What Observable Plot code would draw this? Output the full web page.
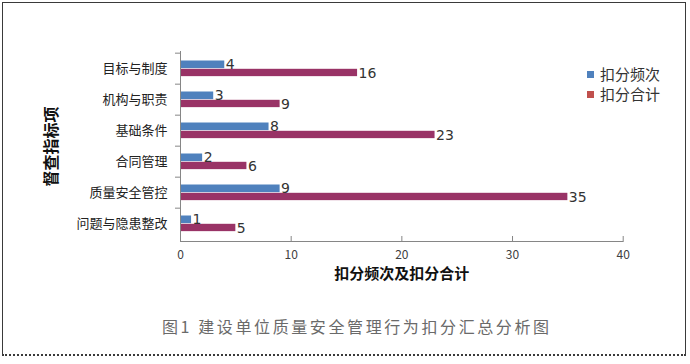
<!DOCTYPE html>
<html>
<head>
<meta charset="utf-8">
<script src="https://cdn.jsdelivr.net/npm/d3@7"></script>
<script src="https://cdn.jsdelivr.net/npm/@observablehq/plot@0.6"></script>
<style>
  html, body { margin: 0; padding: 0; background: #fff; }
  #wrap { position: relative; width: 690px; height: 364px; overflow: hidden; font-family: "Noto Sans CJK SC", "Noto Sans", sans-serif; }
  #border { position: absolute; left: 2px; top: 2px; width: 684px; height: 354px;
    border-top: 1.5px solid #3a3a3a; border-left: 1.5px solid #3a3a3a; border-right: 1.5px solid #3a3a3a;
    border-bottom: 2px dotted #3a3a3a; box-sizing: border-box; }
  #chart { position: absolute; left: 0; top: 0; }
  #legend { position: absolute; left: 587px; top: 64px; font-size: 15px; color: #333; line-height: 20px; }
  #legend .row { display: flex; align-items: center; }
  #legend .sw { width: 7px; height: 7px; margin-right: 6px; }
  #caption { position: absolute; left: 162px; top: 314px; font-size: 16px; letter-spacing: 2.6px; color: #6a6a6a; white-space: nowrap; }
  svg [aria-label="y-axis label"] text, svg [aria-label="x-axis label"] text { font-weight: bold; }
</style>
</head>
<body>
<div id="wrap">
  <div id="border"></div>
  <div id="chart"></div>
  <div id="legend"></div>
  <div id="caption"></div>
</div>
<script>
const categories = ["目标与制度", "机构与职责", "基础条件", "合同管理", "质量安全管控", "问题与隐患整改"];
const freqValues = [4, 3, 8, 2, 9, 1];
const totalValues = [16, 9, 23, 6, 35, 5];
const seriesNames = ["扣分频次", "扣分合计"];
const xTicks = [0, 10, 20, 30, 40];
const yTitle = "督查指标项";
const xTitle = "扣分频次及扣分合计";
const captionText = "图1 建设单位质量安全管理行为扣分汇总分析图";

const blue = "#4F81BD";
const plum = "#993366";
const legendRed = "#C0504D";

const W = 690, H = 300;
const mL = 180, mR = 67.3, mT = 51, mB = 59;
const frameH = H - mT - mB;
const step = frameH / categories.length;

const chart = Plot.plot({
  width: W,
  height: H,
  marginLeft: mL,
  marginRight: mR,
  marginTop: mT,
  marginBottom: mB,
  style: { fontFamily: "'Noto Sans CJK SC', 'Noto Sans', sans-serif", fontSize: "13px", color: "#222", background: "transparent" },
  x: { domain: [0, 40] },
  y: { domain: categories, padding: 0 },
  marks: [
    Plot.barX(categories, { y: d => d, x: (d, i) => freqValues[i], fill: blue, insetTop: 7.5, insetBottom: step - 15.8 }),
    Plot.barX(categories, { y: d => d, x: (d, i) => totalValues[i], fill: plum, insetTop: 15.8, insetBottom: step - 23.8 }),
    Plot.text(categories, { y: d => d, x: (d, i) => freqValues[i], text: (d, i) => String(freqValues[i]), textAnchor: "start", dx: 1, dy: -4.5, fontSize: 14, fill: "#333", fontFamily: "'DejaVu Sans', sans-serif" }),
    Plot.text(categories, { y: d => d, x: (d, i) => totalValues[i], text: (d, i) => String(totalValues[i]), textAnchor: "start", dx: 1, dy: 4.5, fontSize: 14, fill: "#333", fontFamily: "'DejaVu Sans', sans-serif" }),
    Plot.frame({ anchor: "left", stroke: "#868686" }),
    Plot.frame({ anchor: "bottom", stroke: "#868686" }),
    Plot.axisY({ tickSize: 0, tickPadding: 13, fontSize: 13, fill: "#222", label: yTitle, labelArrow: false, labelAnchor: "center", labelOffset: 135 }),
    Plot.axisY({ tickSize: 5, tickFormat: () => "", stroke: "#868686", dy: -step / 2, label: null }),
    Plot.tickX(xTicks, { x: d => d, stroke: "#868686", insetTop: frameH - 5 }),
    Plot.axisX({ ticks: xTicks, tickSize: 0, tickPadding: 9, fontSize: 12, fill: "#404040", label: xTitle, labelArrow: false, labelAnchor: "center", labelOffset: 37 })
  ]
});
document.getElementById("chart").appendChild(chart);

// style axis titles
chart.querySelectorAll('[aria-label="y-axis label"] text').forEach(t => { t.setAttribute("font-size", "16"); t.setAttribute("fill", "#111"); });
chart.querySelectorAll('[aria-label="x-axis label"] text').forEach(t => { t.setAttribute("font-size", "15"); t.setAttribute("fill", "#111"); });

const legend = document.getElementById("legend");
[[seriesNames[0], blue], [seriesNames[1], legendRed]].forEach(([name, c]) => {
  const row = document.createElement("div");
  row.className = "row";
  const sw = document.createElement("span");
  sw.className = "sw";
  sw.style.background = c;
  const tx = document.createElement("span");
  tx.textContent = name;
  row.appendChild(sw);
  row.appendChild(tx);
  legend.appendChild(row);
});
document.getElementById("caption").textContent = captionText;
</script>
</body>
</html>
